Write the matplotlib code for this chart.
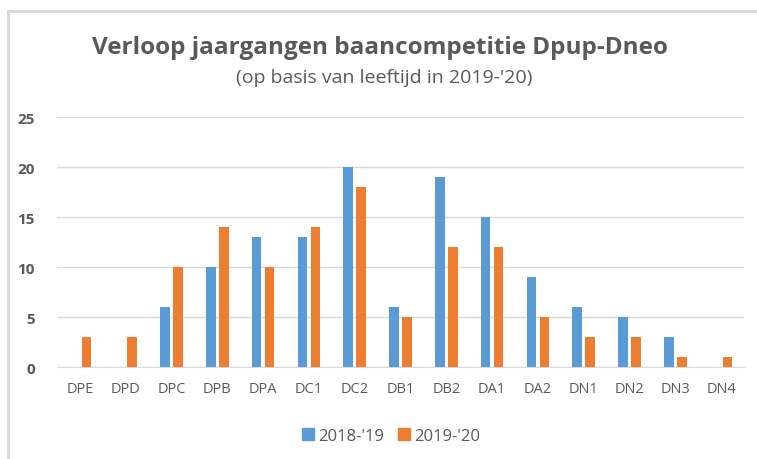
import numpy as np
import matplotlib.pyplot as plt
from matplotlib.lines import Line2D

# data
categories = ['DPE', 'DPD', 'DPC', 'DPB', 'DPA', 'DC1', 'DC2', 'DB1',
              'DB2', 'DA1', 'DA2', 'DN1', 'DN2', 'DN3', 'DN4']
s2018 = [0, 0, 6, 10, 13, 13, 20, 6, 19, 15, 9, 6, 5, 3, 0]
s2019 = [3, 3, 10, 14, 10, 14, 18, 5, 12, 12, 5, 3, 3, 1, 1]
series_names = ["2018-'19", "2019-'20"]
yticks = [0, 5, 10, 15, 20, 25]

blue = '#5B9BD5'
orange = '#ED7D31'
txt = '#595959'

plt.rcParams['font.family'] = ['Open Sans', 'DejaVu Sans']

fig = plt.figure(figsize=(7.57, 4.60), dpi=100)
ax = fig.add_axes([57/757, 1-368/460, (744-57)/757, (368-118)/460])

x = np.arange(len(categories))
w = 0.21
off = 0.142
ax.bar(x - off, s2018, w, color=blue, label=series_names[0], zorder=3)
ax.bar(x + off, s2019, w, color=orange, label=series_names[1], zorder=3)

ax.set_xlim(-0.5, len(categories) - 0.5)
ax.set_ylim(0, 25)
ax.set_yticks(yticks)
ax.set_yticklabels([str(v) for v in yticks], fontsize=11, fontweight='bold', color=txt)
ax.set_xticks(x)
ax.set_xticklabels(categories, fontsize=10.5, color=txt)
ax.tick_params(length=0)
ax.tick_params(axis='y', pad=16)
ax.tick_params(axis='x', pad=10)
ax.grid(axis='y', color='#D9D9D9', linewidth=1, zorder=0)
for s in ['top', 'right', 'left']:
    ax.spines[s].set_visible(False)
ax.spines['bottom'].set_color('#D9D9D9')

fig.text(380/757, 1 - 48/460, 'Verloop jaargangen baancompetitie Dpup-Dneo',
         ha='center', va='center', fontsize=17.5, fontweight='bold', color=txt)
fig.text(384/757, 1 - 78/460, "(op basis van leeftijd in 2019-'20)",
         ha='center', va='center', fontsize=14, color=txt)

leg = fig.legend(handles=[Line2D([], [], marker='s', linestyle='', color=blue, markersize=8),
                          Line2D([], [], marker='s', linestyle='', color=orange, markersize=8)],
                 labels=series_names, loc='center', bbox_to_anchor=(389/757, 1 - 437/460),
                 ncol=2, frameon=False, fontsize=12, handletextpad=0.0,
                 handlelength=1.2, columnspacing=0.6)
for t in leg.get_texts():
    t.set_color(txt)

# chart border (top and left visible)
fig.add_artist(Line2D([8/757, 8/757], [0, 1 - 12/460], color='#D9D9D9', linewidth=2,
                      transform=fig.transFigure))
fig.add_artist(Line2D([8/757, 1], [1 - 12/460, 1 - 12/460], color='#D9D9D9', linewidth=2,
                      transform=fig.transFigure))

fig.savefig('out.png', dpi=100)
